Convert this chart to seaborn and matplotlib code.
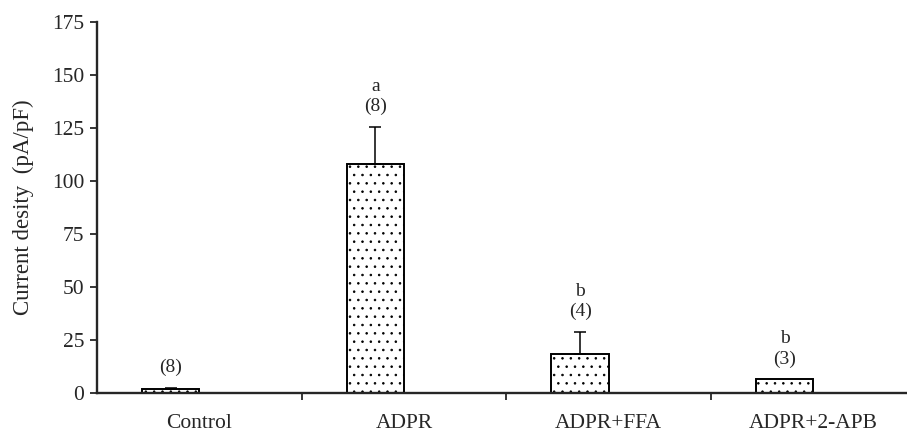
import numpy as np
import pandas as pd
import matplotlib
matplotlib.use('Agg')
import matplotlib.pyplot as plt
import seaborn as sns

# values
groups = ['Control', 'ADPR', 'ADPR+FFA', 'ADPR+2-APB']
means = [2.0, 108.0, 18.4, 6.6]
sems = [0.5, 17.5, 10.4, 0.0]
n_labels = ['(8)', '(8)', '(4)', '(3)']
sig_labels = ['', 'a', 'b', 'b']
y_ticks = [0, 25, 50, 75, 100, 125, 150, 175]

sns.set_style('ticks')
plt.rcParams['font.family'] = ['Liberation Serif', 'DejaVu Serif']
plt.rcParams['hatch.linewidth'] = 0.6
plt.rcParams['hatch.color'] = 'black'

df = pd.DataFrame({'group': groups, 'value': means, 'series': 'mean'})

fig = plt.figure(figsize=(9.07, 4.32), dpi=100)
ax = fig.add_axes([97 / 907, 39 / 432, 1 - 97 / 907, (393 - 22) / 432])

# second (empty) hue level keeps the bars on the left half of each category
sns.barplot(data=df, x='group', y='value', hue='series',
            hue_order=['mean', 'blank'], order=groups,
            palette=['white', 'white'], width=0.56, dodge=True,
            errorbar=None, legend=False, edgecolor='black',
            linewidth=1.4, hatch='..', ax=ax)

bars = [p for p in ax.patches][:len(groups)]
for p, m, e, n, s in zip(bars, means, sems, n_labels, sig_labels):
    xc = p.get_x() + p.get_width() / 2
    if e > 0:
        ax.errorbar(xc, m, yerr=[[0], [e]], fmt='none', ecolor='black',
                    elinewidth=1.1, capsize=4, capthick=1.1)
    top = m + e
    ax.annotate(n, (xc, top), xytext=(0, 14.5), textcoords='offset points',
                ha='center', va='center', fontsize=14)
    if s:
        ax.annotate(s, (xc, top), xytext=(0, 29), textcoords='offset points',
                    ha='center', va='center', fontsize=14)

ax.set_ylim(0, 175)
ax.set_yticks(y_ticks)
ax.set_xlim(-0.5, 3.457)
ax.set_xlabel('')
ax.set_ylabel('Current desity  (pA/pF)', fontsize=16.5, labelpad=13)

# labels centred on categories, tick marks on category boundaries
ax.set_xticks(range(len(groups)))
ax.set_xticklabels(groups, fontsize=15.5)
ax.tick_params(axis='x', which='major', length=0, pad=15)
ax.set_xticks([0.5, 1.5, 2.5], minor=True)
ax.tick_params(axis='x', which='minor', length=5, width=1.3, direction='out')
ax.tick_params(axis='y', labelsize=15.5, length=5, width=1.3, pad=4)

sns.despine(ax=ax)
ax.spines['left'].set_linewidth(1.7)
ax.spines['bottom'].set_linewidth(1.7)
ax.grid(False)

fig.savefig('out.png', dpi=100)
